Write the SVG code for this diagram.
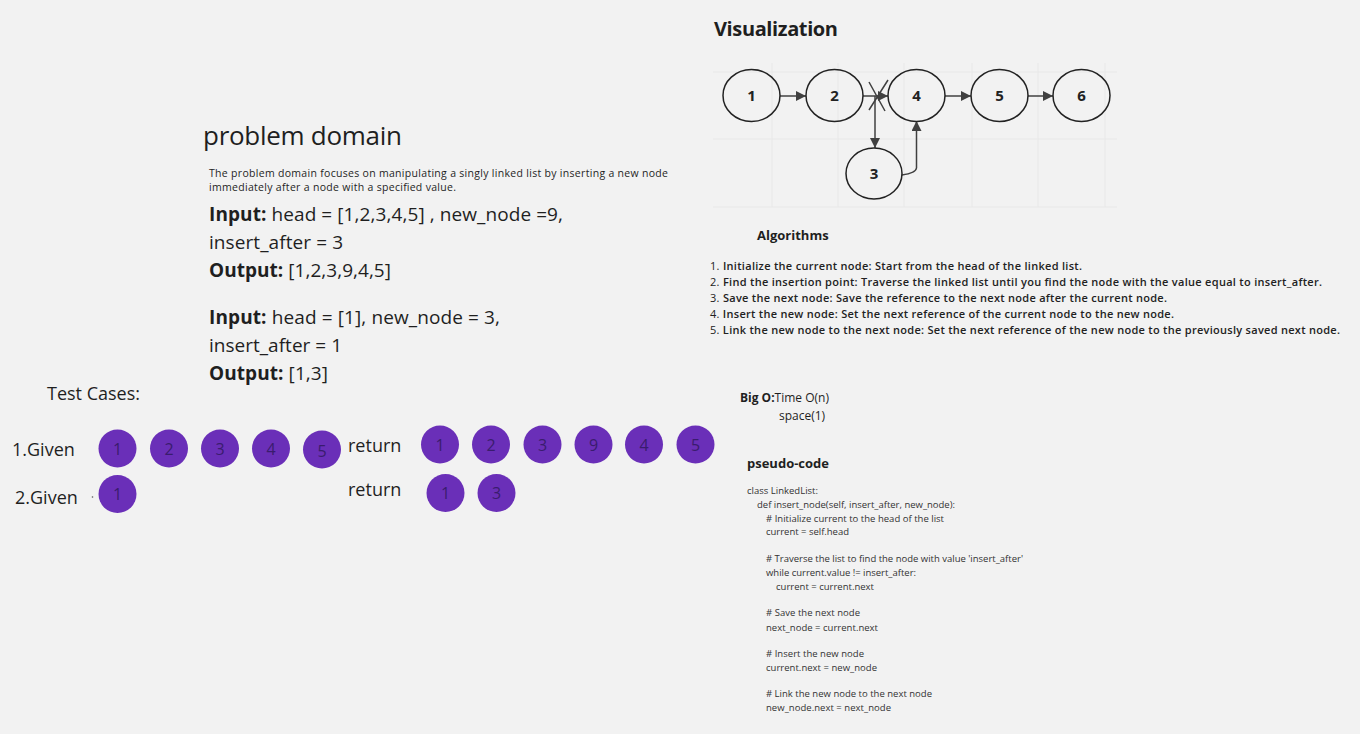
<svg xmlns="http://www.w3.org/2000/svg" width="1360" height="734" viewBox="0 0 1360 734">
<defs>
<style>
text{font-family:"Open Sans","Noto Sans","Liberation Sans",sans-serif;fill:#1f1f1f}
.grid{stroke:#e8e8e8;stroke-width:1;fill:none}
.node ellipse{fill:none;stroke:#222;stroke-width:1.5}
.node text{font-size:15px;font-weight:700;text-anchor:middle;fill:#222}
.conn{stroke:#404040;stroke-width:1.5;fill:none}
.pc circle{fill:#6a2fb8}
.pc text{font-size:16px;font-weight:400;text-anchor:middle;fill:#3a1c6e}
.big{font-size:19px}
.b{font-weight:700}
.code{font-size:9.5px;fill:#333}
.alg{font-size:11px;font-weight:600;fill:#222}
</style>
<marker id="ah2" viewBox="0 0 10 10" refX="10" refY="5" markerWidth="10" markerHeight="10" orient="auto" markerUnits="userSpaceOnUse">
<path d="M0,0 L10,5 L0,10 z" fill="#404040"/>
</marker>
</defs>
<rect width="1360" height="734" fill="#f2f2f2"/>

<g id="grid" class="grid">
<path d="M713,72H1117M713,139H1117M713,207H1117"/>
<path d="M772,63V207M838,63V207M904,63V207M972,63V207M1038,63V207M1105,63V207"/>
</g>

<text x="714" y="36" font-size="20" font-weight="700" textLength="124">Visualization</text>

<g id="connectors">
<line class="conn" x1="780" y1="96" x2="806" y2="96" marker-end="url(#ah2)"/>
<line class="conn" x1="863" y1="96" x2="888" y2="96" marker-end="url(#ah2)"/>
<line class="conn" x1="945" y1="96" x2="971" y2="96" marker-end="url(#ah2)"/>
<line class="conn" x1="1028" y1="96" x2="1053" y2="96" marker-end="url(#ah2)"/>
<line class="conn" x1="875" y1="96" x2="875" y2="148" marker-end="url(#ah2)"/>
<path class="conn" d="M902,175 Q916,173 916.5,168 L916.5,121" marker-end="url(#ah2)"/>
<path class="conn" d="M869,82 L885,111 M888,80 L869,110" stroke-width="1.2"/>
</g>

<g id="n1" class="node"><ellipse cx="751.5" cy="95.5" rx="28.5" ry="26"/><text x="751.5" y="101">1</text></g>
<g id="n2" class="node"><ellipse cx="834.5" cy="95.5" rx="28.5" ry="26"/><text x="834.5" y="101">2</text></g>
<g id="n4" class="node"><ellipse cx="916.5" cy="95.5" rx="28.5" ry="26"/><text x="916.5" y="101">4</text></g>
<g id="n5" class="node"><ellipse cx="999.5" cy="95.5" rx="28.5" ry="26"/><text x="999.5" y="101">5</text></g>
<g id="n6" class="node"><ellipse cx="1081.5" cy="95.5" rx="28.5" ry="26"/><text x="1081.5" y="101">6</text></g>
<g id="n3" class="node"><ellipse cx="874" cy="173.5" rx="28" ry="25.5"/><text x="874" y="179">3</text></g>

<g id="problem">
<text x="203" y="145" font-size="26" fill="#222" textLength="199">problem domain</text>
<text x="209" y="177" font-size="10.5" fill="#333" textLength="459">The problem domain focuses on manipulating a singly linked list by inserting a new node</text>
<text x="209" y="191" font-size="10.5" fill="#333" textLength="247">immediately after a node with a specified value.</text>
<text x="209" y="221" class="big" textLength="354"><tspan class="b">Input:</tspan> head = [1,2,3,4,5] , new_node =9,</text>
<text x="209" y="249" class="big" textLength="134">insert_after = 3</text>
<text x="209" y="277" class="big" textLength="182"><tspan class="b">Output:</tspan> [1,2,3,9,4,5]</text>
<text x="209" y="324" class="big" textLength="291"><tspan class="b">Input:</tspan> head = [1], new_node = 3,</text>
<text x="209" y="352" class="big" textLength="133">insert_after = 1</text>
<text x="209" y="380" class="big" textLength="119"><tspan class="b">Output:</tspan> [1,3]</text>
</g>

<g id="tests">
<text x="47" y="400" font-size="18" fill="#222">Test Cases:</text>
<text x="12" y="456" font-size="18" fill="#222">1.Given</text>
<text x="15" y="504" font-size="18" fill="#222">2.Given</text>
<circle cx="92.5" cy="497" r="0.8" fill="#555"/>
<text x="348" y="452" font-size="18" fill="#222">return</text>
<text x="348" y="496" font-size="18" fill="#222">return</text>
</g>

<g id="given1" class="pc">
<circle cx="117.5" cy="448.5" r="19"/><text x="117.5" y="455">1</text>
<circle cx="169" cy="448.5" r="19"/><text x="169" y="455">2</text>
<circle cx="220" cy="448.5" r="19"/><text x="220" y="455">3</text>
<circle cx="271" cy="448.5" r="19"/><text x="271" y="455">4</text>
<circle cx="322" cy="449.5" r="19"/><text x="322" y="457">5</text>
</g>
<g id="given2" class="pc">
<circle cx="117.5" cy="494" r="19"/><text x="117.5" y="500">1</text>
</g>
<g id="return1" class="pc">
<circle cx="440" cy="444.5" r="19"/><text x="440" y="451">1</text>
<circle cx="491" cy="444.5" r="19"/><text x="491" y="451">2</text>
<circle cx="542.5" cy="444.5" r="19"/><text x="542.5" y="451">3</text>
<circle cx="593.5" cy="444.5" r="19"/><text x="593.5" y="451">9</text>
<circle cx="644" cy="444.5" r="19"/><text x="644" y="451">4</text>
<circle cx="695.5" cy="444.5" r="19"/><text x="695.5" y="451">5</text>
</g>
<g id="return2" class="pc">
<circle cx="445.5" cy="493" r="19"/><text x="445.5" y="499">1</text>
<circle cx="496.5" cy="493" r="19"/><text x="496.5" y="499">3</text>
</g>

<g id="algorithms">
<text x="757" y="240" font-size="13" font-weight="700" fill="#222">Algorithms</text>
<text x="710" y="270" class="alg" textLength="372"><tspan font-weight="400">1.</tspan> Initialize the current node: Start from the head of the linked list.</text>
<text x="710" y="286" class="alg" textLength="612"><tspan font-weight="400">2.</tspan> Find the insertion point: Traverse the linked list until you find the node with the value equal to insert_after.</text>
<text x="710" y="302" class="alg" textLength="457"><tspan font-weight="400">3.</tspan> Save the next node: Save the reference to the next node after the current node.</text>
<text x="710" y="318" class="alg" textLength="464"><tspan font-weight="400">4.</tspan> Insert the new node: Set the next reference of the current node to the new node.</text>
<text x="710" y="334" class="alg" textLength="630"><tspan font-weight="400">5.</tspan> Link the new node to the next node: Set the next reference of the new node to the previously saved next node.</text>
</g>

<g id="bigo">
<text x="740" y="402" font-size="12" fill="#222"><tspan font-weight="700">Big O:</tspan>Time O(n)</text>
<text x="779" y="420" font-size="12" fill="#222">space(1)</text>
</g>

<g id="pseudo">
<text x="747" y="468" font-size="13" font-weight="700" fill="#222">pseudo-code</text>
<text x="747" y="494" class="code" textLength="71">class LinkedList:</text>
<text x="757" y="508" class="code" textLength="198">def insert_node(self, insert_after, new_node):</text>
<text x="766" y="522" class="code" textLength="178"># Initialize current to the head of the list</text>
<text x="766" y="535" class="code" textLength="83">current = self.head</text>
<text x="766" y="562" class="code" textLength="257"># Traverse the list to find the node with value 'insert_after'</text>
<text x="766" y="576" class="code" textLength="150">while current.value != insert_after:</text>
<text x="776" y="590" class="code" textLength="98">current = current.next</text>
<text x="766" y="616" class="code" textLength="94"># Save the next node</text>
<text x="766" y="631" class="code" textLength="112">next_node = current.next</text>
<text x="766" y="657" class="code" textLength="98"># Insert the new node</text>
<text x="766" y="671" class="code" textLength="111">current.next = new_node</text>
<text x="766" y="697" class="code" textLength="166"># Link the new node to the next node</text>
<text x="766" y="711" class="code" textLength="125">new_node.next = next_node</text>
</g>
</svg>
